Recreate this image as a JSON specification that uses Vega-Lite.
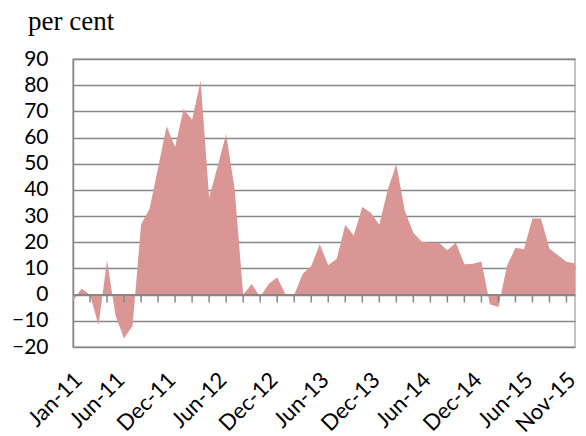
{
  "$schema": "https://vega.github.io/schema/vega-lite/v6.json",
  "width": 502,
  "height": 288,
  "autosize": {"type": "none"},
  "padding": {"left": 73, "top": 59, "right": 11, "bottom": 89},
  "background": "white",
  "title": {
    "text": "per cent",
    "anchor": "start",
    "frame": "group",
    "font": "Liberation Serif",
    "fontSize": 27,
    "fontWeight": "normal",
    "color": "#000000",
    "dx": -45,
    "offset": -9,
    "baseline": "alphabetic"
  },
  "config": {
    "view": {"stroke": "#b0b0b0", "strokeWidth": 1.5},
    "axis": {"labelFont": "Lato", "labelColor": "#000000"},
    "axisY": {
      "title": null,
      "values": [-20, -10, 0, 10, 20, 30, 40, 50, 60, 70, 80, 90],
      "labelFontSize": 21,
      "labelPadding": 25,
      "labelOverlap": false,
      "labelFlush": false,
      "ticks": false,
      "domainColor": "#878787",
      "domainWidth": 1.5,
      "gridColor": "#878787",
      "gridWidth": 1.5,
      "gridOpacity": 1
    }
  },
  "data": {
    "values": [
      {"month": "Jan-11", "v": -2.5}, {"month": "Feb-11", "v": 2.3}, {"month": "Mar-11", "v": 0}, {"month": "Apr-11", "v": -11.7},
      {"month": "May-11", "v": 13.1}, {"month": "Jun-11", "v": -8.1}, {"month": "Jul-11", "v": -16.8}, {"month": "Aug-11", "v": -11.9},
      {"month": "Sep-11", "v": 26.8}, {"month": "Oct-11", "v": 32.8}, {"month": "Nov-11", "v": 48.5}, {"month": "Dec-11", "v": 64.3},
      {"month": "Jan-12", "v": 56.4}, {"month": "Feb-12", "v": 70.9}, {"month": "Mar-12", "v": 66.8}, {"month": "Apr-12", "v": 81.8},
      {"month": "May-12", "v": 37.0}, {"month": "Jun-12", "v": 49.0}, {"month": "Jul-12", "v": 61.4}, {"month": "Aug-12", "v": 40.2},
      {"month": "Sep-12", "v": 0}, {"month": "Oct-12", "v": 4.1}, {"month": "Nov-12", "v": -0.8}, {"month": "Dec-12", "v": 4.1},
      {"month": "Jan-13", "v": 6.6}, {"month": "Feb-13", "v": 0}, {"month": "Mar-13", "v": 0}, {"month": "Apr-13", "v": 8.0},
      {"month": "May-13", "v": 10.9}, {"month": "Jun-13", "v": 19.2}, {"month": "Jul-13", "v": 11.2}, {"month": "Aug-13", "v": 13.7},
      {"month": "Sep-13", "v": 26.7}, {"month": "Oct-13", "v": 22.6}, {"month": "Nov-13", "v": 33.5}, {"month": "Dec-13", "v": 31.3},
      {"month": "Jan-14", "v": 26.7}, {"month": "Feb-14", "v": 40.2}, {"month": "Mar-14", "v": 49.8}, {"month": "Apr-14", "v": 31.9},
      {"month": "May-14", "v": 23.6}, {"month": "Jun-14", "v": 20.2}, {"month": "Jul-14", "v": 19.8}, {"month": "Aug-14", "v": 19.8},
      {"month": "Sep-14", "v": 17.0}, {"month": "Oct-14", "v": 19.8}, {"month": "Nov-14", "v": 11.6}, {"month": "Dec-14", "v": 11.8},
      {"month": "Jan-15", "v": 12.7}, {"month": "Feb-15", "v": -3.7}, {"month": "Mar-15", "v": -4.7}, {"month": "Apr-15", "v": 10.9},
      {"month": "May-15", "v": 17.9}, {"month": "Jun-15", "v": 17.3}, {"month": "Jul-15", "v": 29.1}, {"month": "Aug-15", "v": 29.1},
      {"month": "Sep-15", "v": 17.5}, {"month": "Oct-15", "v": 15.0}, {"month": "Nov-15", "v": 12.6}, {"month": "Dec-15", "v": 11.9}
    ]
  },
  "encoding": {
    "x": {
      "field": "month",
      "type": "ordinal",
      "sort": null,
      "scale": {"type": "point", "padding": 0},
      "axis": {
        "title": null,
        "values": ["Jan-11", "Jun-11", "Dec-11", "Jun-12", "Dec-12", "Jun-13", "Dec-13", "Jun-14", "Dec-14", "Jun-15", "Nov-15"],
        "labelAngle": -45,
        "labelAlign": "right",
        "labelBaseline": "middle",
        "labelFontSize": 22,
        "labelOffset": 5,
        "labelPadding": 29,
        "labelOverlap": false,
        "ticks": false,
        "domain": false,
        "grid": false
      }
    }
  },
  "layer": [
    {
      "mark": {"type": "area", "color": "#d99694", "opacity": 1},
      "encoding": {
        "y": {
          "field": "v",
          "type": "quantitative",
          "title": null,
          "scale": {"domain": [-20, 90], "nice": false}
        }
      }
    },
    {
      "mark": {"type": "rule", "color": "#878787", "strokeWidth": 1.5},
      "encoding": {"x": null, "y": {"datum": 0, "type": "quantitative", "title": null}}
    },
    {
      "transform": [
        {"window": [{"op": "row_number", "as": "n"}]},
        {"filter": "datum.n % 2 == 1 && datum.n > 1"}
      ],
      "mark": {"type": "rule", "color": "#878787", "strokeWidth": 1.5},
      "encoding": {
        "y": {"datum": 0, "type": "quantitative", "title": null},
        "y2": {"datum": -3}
      }
    }
  ]
}
